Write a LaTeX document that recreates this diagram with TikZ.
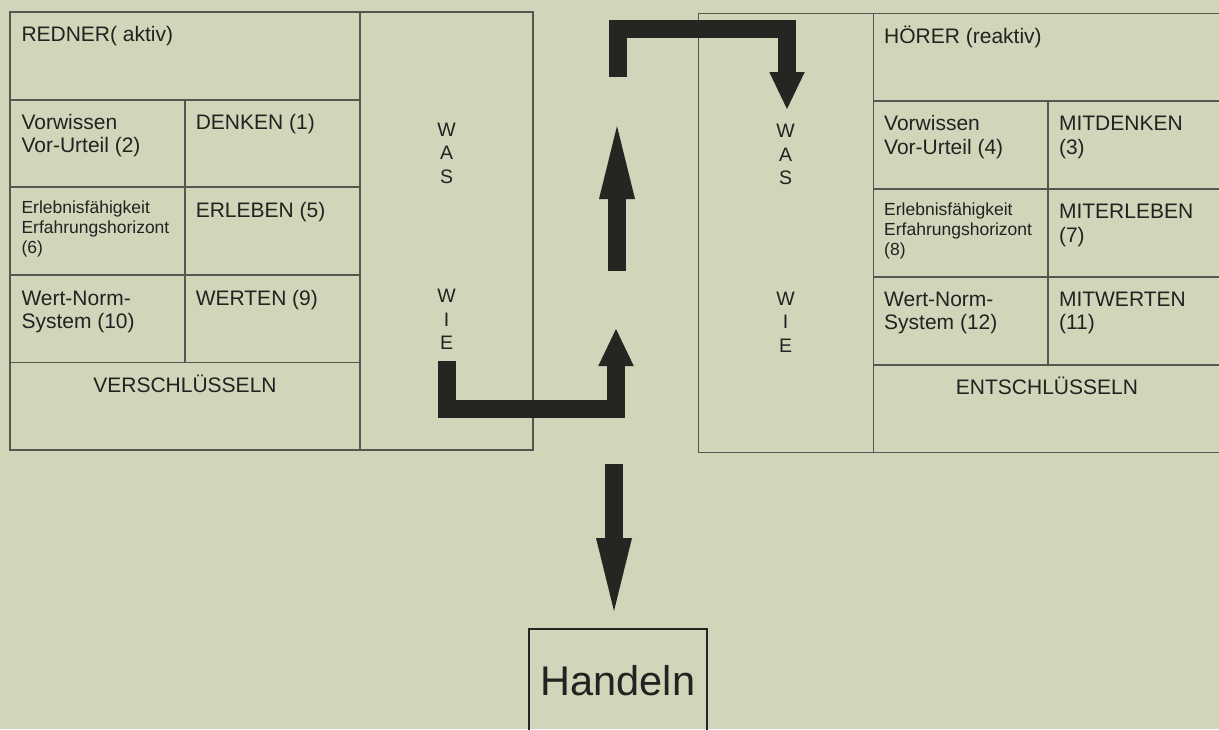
\documentclass[tikz,border=0pt]{standalone}
\usepackage{fontspec}
\setmainfont{Liberation Sans}
\usetikzlibrary{arrows.meta}
\definecolor{bg}{RGB}{209,213,186}
\definecolor{ink}{RGB}{37,37,33}
\definecolor{rulec}{RGB}{85,87,80}
\definecolor{txt}{RGB}{34,34,32}
\tikzset{
  frame/.style={draw=rulec, line width=1.1pt},
  lbl/.style={anchor=base west, inner sep=0pt, text=txt, align=left, font=\fontsize{21pt}{23.4pt}\selectfont},
  small/.style={anchor=base west, inner sep=0pt, text=txt, align=left, font=\fontsize{17.5pt}{20pt}\selectfont},
  ctr/.style={anchor=base, inner sep=0pt, text=txt, align=center, font=\fontsize{21pt}{23.4pt}\selectfont},
  vert/.style={anchor=base, inner sep=0pt, text=txt, align=center, font=\fontsize{19.5pt}{23.5pt}\selectfont},
  blockarrow/.style={draw=ink, line width=18pt, line join=miter, line cap=butt},
  shorthead/.style={-{Triangle[length=37pt,width=35.5pt,line width=0pt]}},
  longhead/.style={-{Triangle[length=73pt,width=36pt,line width=0pt]}},
}
\begin{document}
\begin{tikzpicture}[x=1pt,y=-1pt]
\useasboundingbox (0,0) rectangle (1219,729);
\fill[bg] (0,0) rectangle (1219,729);
\clip (0,0) rectangle (1219,729);

% left frame
\draw[frame] (10,12) rectangle (533,450);
\draw[frame] (360,12) -- (360,450);
\draw[frame] (10,100) -- (360,100);
\draw[frame] (10,187) -- (360,187);
\draw[frame] (10,275) -- (360,275);
\draw[frame] (10,362.5) -- (360,362.5);
\draw[frame] (185,100) -- (185,362.5);

% right frame (open to the right edge)
\draw[frame] (1225,13.3) -- (698.4,13.3) -- (698.4,452.7) -- (1225,452.7);
\draw[frame] (873.2,13.3) -- (873.2,452.7);
\draw[frame] (873.2,101) -- (1225,101);
\draw[frame] (873.2,189) -- (1225,189);
\draw[frame] (873.2,277) -- (1225,277);
\draw[frame] (873.2,365) -- (1225,365);
\draw[frame] (1048,101) -- (1048,365);

% left texts (base anchor = baseline of the last line)
\node[lbl] (redner) at (21.3,41.7) {REDNER( aktiv)};
\node[lbl] (lvor) at (21.3,152.7) {Vorwissen\\Vor-Urteil (2)};
\node[lbl] (denken) at (195.6,129.3) {DENKEN (1)};
\node[small] (lerl) at (21.3,253.3) {Erlebnisfähigkeit\\Erfahrungshorizont\\(6)};
\node[lbl] (erleben) at (195.6,217.3) {ERLEBEN (5)};
\node[lbl] (lwert) at (21.3,328.4) {Wert-Norm-\\System (10)};
\node[lbl] (werten) at (195.6,305) {WERTEN (9)};
\node[ctr] (versch) at (185,392.3) {VERSCHLÜSSELN};
\node[vert] (lwas) at (446.5,183) {W\\A\\S};
\node[vert] (lwie) at (446.5,349.7) {W\\I\\E};

% right texts
\node[lbl] (hoerer) at (884,43.3) {HÖRER (reaktiv)};
\node[lbl] (rvor) at (884,154.1) {Vorwissen\\Vor-Urteil (4)};
\node[lbl] (mitdenken) at (1058.8,154.1) {MITDENKEN\\(3)};
\node[small] (rerl) at (884,255) {Erlebnisfähigkeit\\Erfahrungshorizont\\(8)};
\node[lbl] (miterleben) at (1058.8,242.2) {MITERLEBEN\\(7)};
\node[lbl] (rwert) at (884,329.6) {Wert-Norm-\\System (12)};
\node[lbl] (mitwerten) at (1058.8,329.6) {MITWERTEN\\(11)};
\node[ctr] (entsch) at (1047,394) {ENTSCHLÜSSELN};
\node[vert] (rwas) at (785.5,184.5) {W\\A\\S};
\node[vert] (rwie) at (785.5,352) {W\\I\\E};

% Handeln
\node[draw=ink, line width=1.2pt, minimum width=178pt, minimum height=104pt, inner sep=0pt,
      text=txt, font=\fontsize{41.5pt}{45pt}\selectfont] (hand) at (618,681) {Handeln};

% arrows
\coordinate (a1s) at (447,361);
\coordinate (a1k) at (616,409);
\coordinate (a1t) at (616,329);
\draw[blockarrow, shorthead] (a1s) |- (a1k) -- (a1t);

\coordinate (a2s) at (617,271);
\coordinate (a2t) at (617,126);
\draw[blockarrow, longhead] (a2s) -- (a2t);

\coordinate (a3s) at (618,77);
\coordinate (a3k) at (787,29);
\coordinate (a3t) at (787,109);
\draw[blockarrow, shorthead] (a3s) |- (a3k) -- (a3t);

\coordinate (a4s) at (614,464);
\coordinate (a4t) at (614,611);
\draw[blockarrow, longhead] (a4s) -- (a4t);
\end{tikzpicture}
\end{document}
